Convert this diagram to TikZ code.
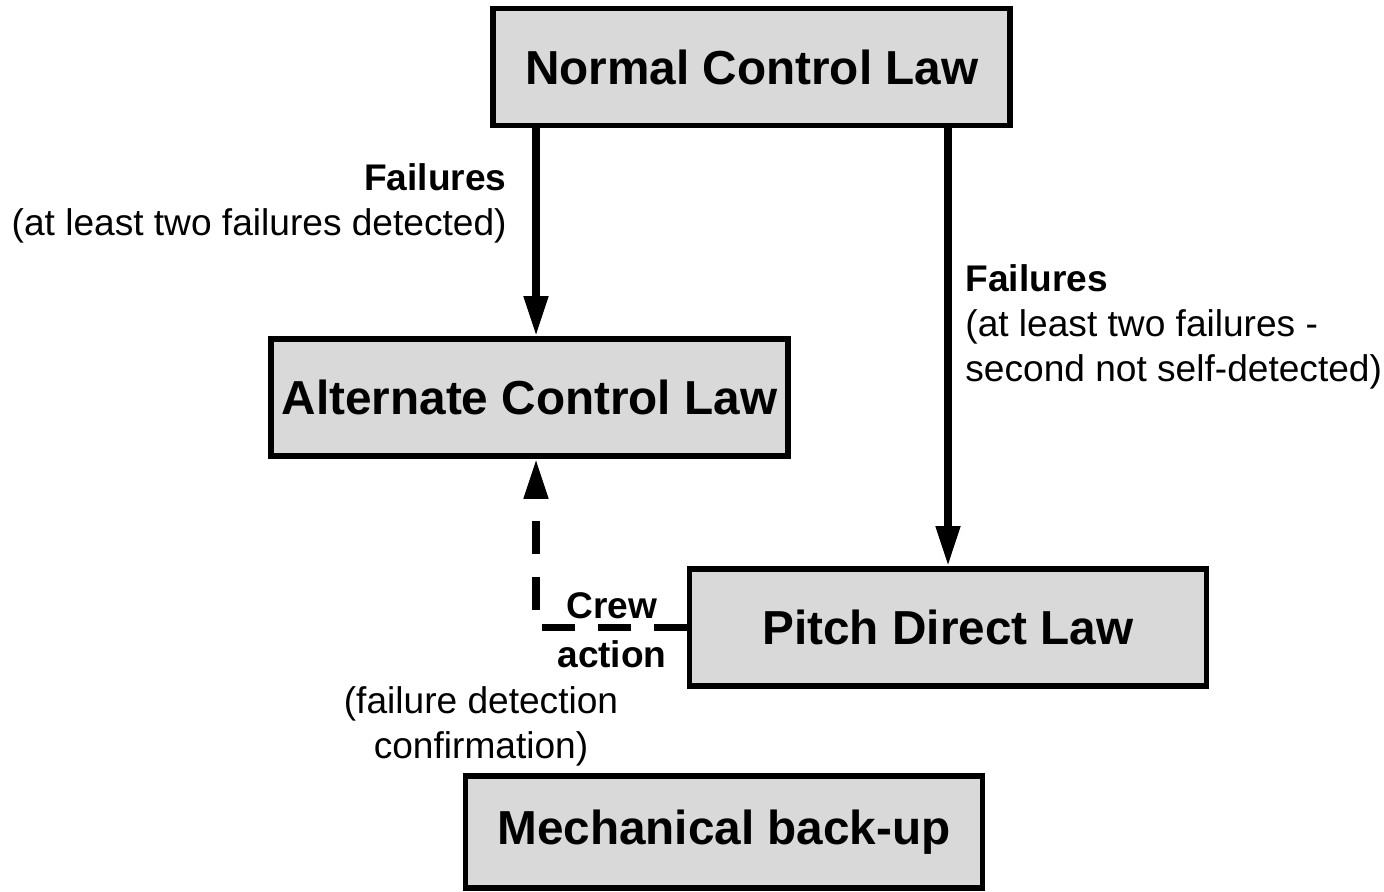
\documentclass[tikz,border=0pt]{standalone}
\usepackage{fontspec}
\setmainfont{Liberation Sans}
\usetikzlibrary{arrows.meta}
\definecolor{lawgray}{HTML}{D9D9D9}

\begin{document}
\begin{tikzpicture}[x=0.5pt,y=-0.5pt,
    law/.style={draw,line width=2.85pt,fill=lawgray,minimum width=258.5pt,minimum height=58.5pt,inner sep=0pt,font=\fontsize{23.85}{28}\selectfont\bfseries},
    note/.style={inner sep=0pt,font=\fontsize{18.55}{22.5}\selectfont},
    flow/.style={line width=3.75pt,-{Triangle[length=20pt,width=11.5pt]}}]
      \useasboundingbox (0,0) rectangle (1384,892);
      \node[law] (normal) at (751.75,67) {Normal Control Law};
      \node[law] (alt) at (529.5,397.5) {Alternate Control Law};
      \node[law] (pitch) at (948,627.5) {Pitch Direct Law};
      \node[law,minimum height=56pt] (mech) at (724,832) {Mechanical back-up};
      \coordinate (leftx) at (536,0);
      \draw[flow] (normal.south -| leftx) -- (alt.north -| leftx);
      \draw[flow] (normal.south -| pitch.north) -- (pitch.north);
      \draw[flow,dash pattern=on 16.5pt off 11.5pt] (pitch.west) -| (alt.south -| leftx);
      \node[note,anchor=east,align=right] (leftnote) at (507,203.5) {\textbf{Failures}\\(at least two failures detected)};
      \node[note,anchor=west,align=left] (rightnote) at (965,327) {\textbf{Failures}\\(at least two failures -\\second not self-detected)};
      \node[note,align=center,font=\fontsize{18.55}{24.5}\selectfont\bfseries] (crew) at (612,630.5) {Crew\\action};
      \node[note,align=center] (confirm) at (481,726.5) {(failure detection\\confirmation)};
    \end{tikzpicture}
\end{document}
